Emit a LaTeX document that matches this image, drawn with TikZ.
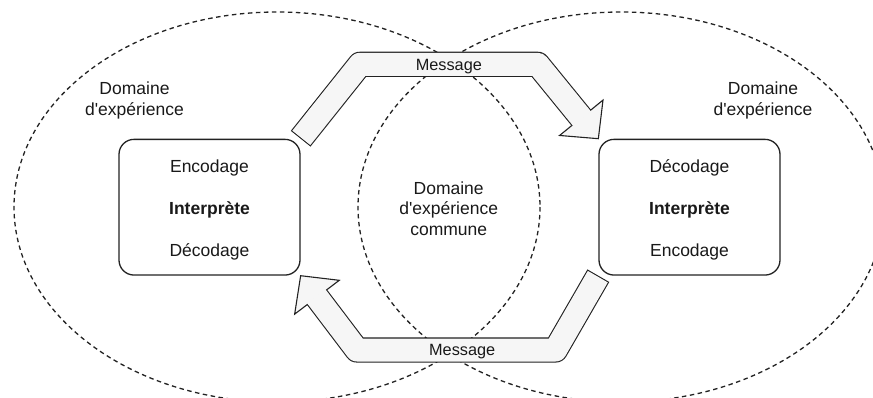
\documentclass[tikz,border=0pt]{standalone}
\usepackage{fontspec}
\newfontfamily\arialf{Liberation Sans}
\usetikzlibrary{calc}
\definecolor{edge}{HTML}{222222}
\definecolor{arrowfill}{HTML}{F6F6F6}
\begin{document}
\begin{tikzpicture}[x=1pt,y=-1pt,
  domainline/.style={draw=edge, line width=1.3pt, dash pattern=on 4.5pt off 3.5pt},
  interp/.style={draw=edge, line width=1.3pt, rounded corners=15pt, fill=white,
    minimum width=181pt, minimum height=135.7pt, inner sep=0pt, align=center,
    text=black!90, font=\arialf\fontsize{17.5}{42}\selectfont},
  lbl/.style={inner sep=0pt, anchor=north, align=center, text=black!90,
    font=\arialf\fontsize{17.5}{20.7}\selectfont},
  msg/.style={inner sep=0pt, text=black!90, font=\arialf\fontsize{16.3}{19}\selectfont,
    text height=11.7pt, text depth=0pt},
  shaftout/.style={draw=edge, line width=25.2pt, line join=round},
  shaftin/.style={draw=arrowfill, line width=23pt, line join=round},
  headtri/.style={fill=arrowfill, draw=edge, line width=1.1pt, line join=miter}
]
\useasboundingbox (0,0) rectangle (873,397);
\begin{scope}
  \clip (0,0) rectangle (873,397);
  \draw[domainline] (277,207) ellipse [x radius=263, y radius=195];
  \draw[domainline] (621,207) ellipse [x radius=263, y radius=195];
\end{scope}

\node[lbl] (ldom) at (134.5,80.0) {\rule{0pt}{14.3pt}Domaine\\d'expérience};
\node[lbl] (rdom) at (763,80.0) {\rule{0pt}{14.3pt}Domaine\\d'expérience};
\node[lbl] (cdom) at (448.7,179.7) {\rule{0pt}{14.3pt}Domaine\\d'expérience\\commune};

\node[interp] (lbox) at (209.5,207.2) {\rule{0pt}{18.5pt}Encodage\\\textbf{Interprète}\\Décodage};
\node[interp] (rbox) at (689.5,207.2) {\rule{0pt}{18.5pt}Décodage\\\textbf{Interprète}\\Encodage};

% corners of the two message arrows
\coordinate (c1) at (360,64.3);
\coordinate (c2) at (537.7,64.3);
\coordinate (c3) at (555.5,350);
\coordinate (c4) at (357,350);

% top arrow: left box -> right box
\coordinate (ta) at (lbox.north east);
\coordinate (tt) at (rbox.north west);
\coordinate (tb) at ($(tt)!27pt!(c2)$);
\coordinate (tb1) at ($(tb)!28pt!90:(tt)$);
\coordinate (tb2) at ($(tb)!28pt!-90:(tt)$);
\coordinate (te) at ($(tb)!-1.4pt!(c2)$);
\coordinate (ts) at ($(ta)!1.1pt!(c1)$);
\draw[shaftout] (ta) -- (c1) -- (c2) -- (tb);
\draw[headtri] (tb1) -- (tt) -- (tb2) -- cycle;
\draw[shaftin] (ts) -- (c1) -- (c2) -- (te);
\path (c1) -- node[msg] (m1) {Message} (c2);

% bottom arrow: right box -> left box
\coordinate (ba) at (rbox.south west);
\coordinate (bt) at (lbox.south east);
\coordinate (bb) at ($(bt)!27pt!(c4)$);
\coordinate (bb1) at ($(bb)!28pt!90:(bt)$);
\coordinate (bb2) at ($(bb)!28pt!-90:(bt)$);
\coordinate (be) at ($(bb)!-1.4pt!(c4)$);
\coordinate (bs) at ($(ba)!1.1pt!(c3)$);
\draw[shaftout] (ba) -- (c3) -- (c4) -- (bb);
\draw[headtri] (bb1) -- (bt) -- (bb2) -- cycle;
\draw[shaftin] (bs) -- (c3) -- (c4) -- (be);
\path (c3) -- node[msg, pos=0.47] (m2) {Message} (c4);
\end{tikzpicture}
\end{document}
